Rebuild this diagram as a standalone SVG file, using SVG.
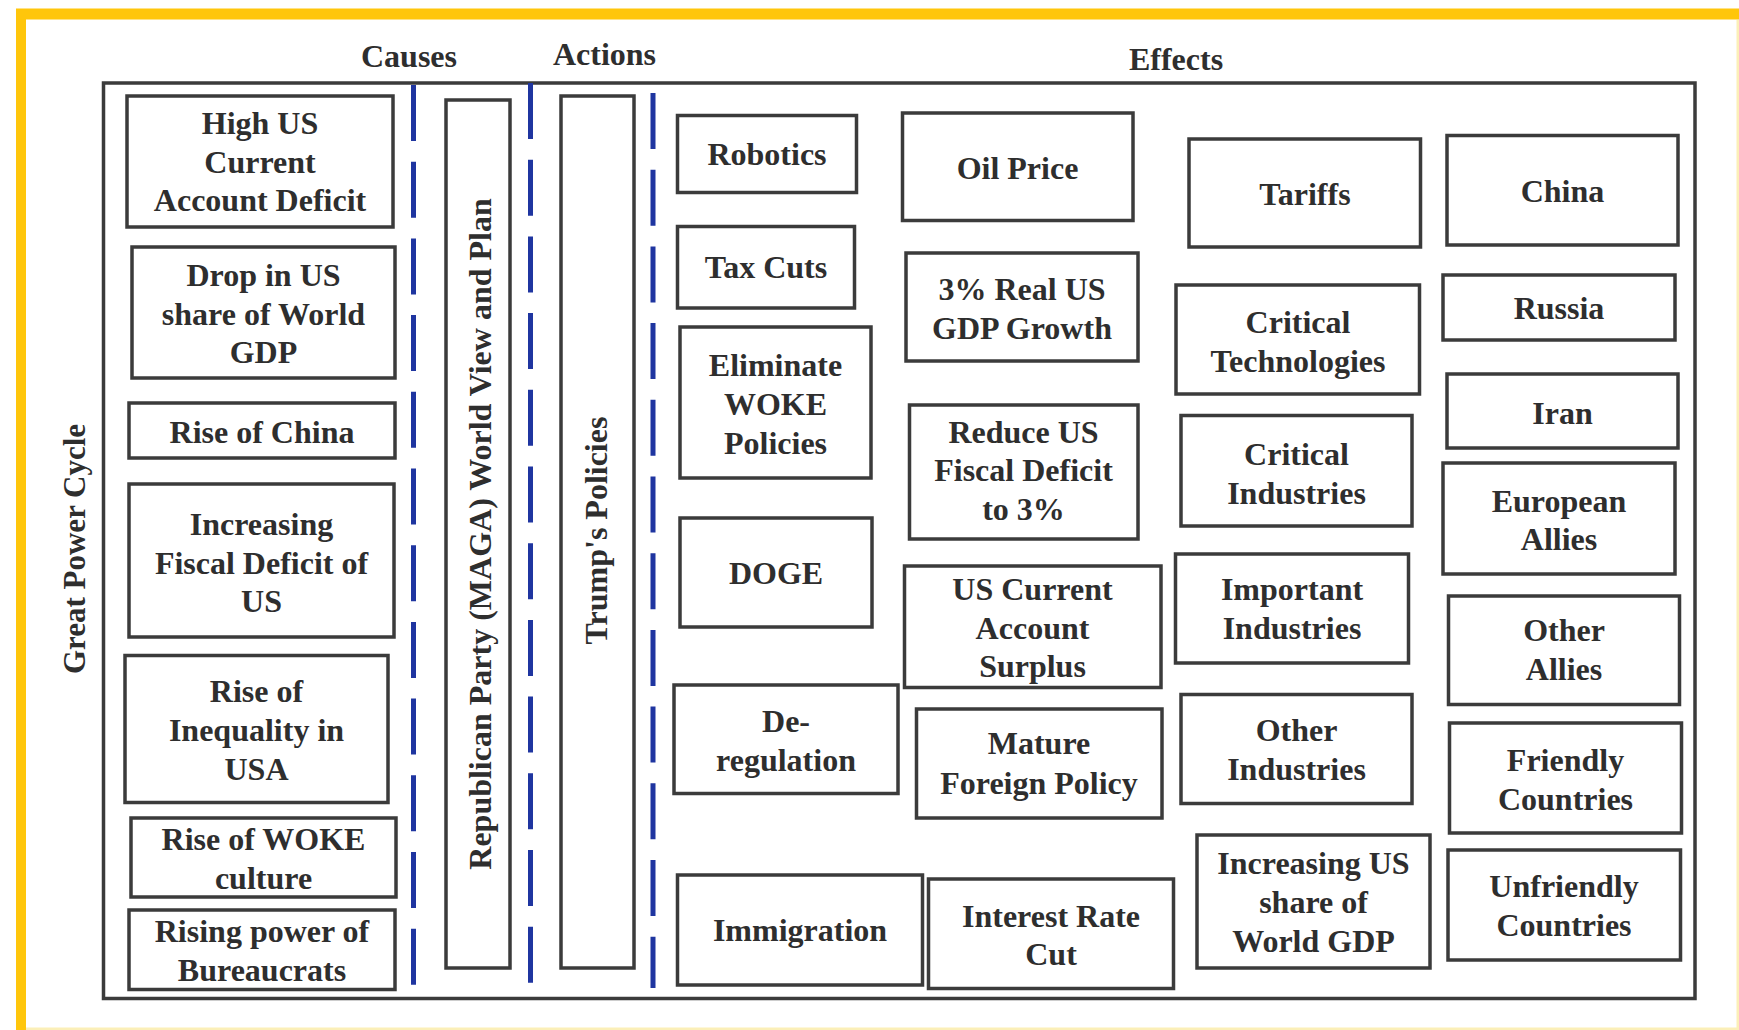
<svg xmlns="http://www.w3.org/2000/svg" width="1739" height="1030" viewBox="0 0 1739 1030">
<style>
.bx{fill:#fff;stroke:#3b3b3b;stroke-width:3.5}
.t{font-family:"Liberation Serif","Times New Roman",serif;font-weight:bold;font-size:32px;fill:#2e2e2e;text-anchor:middle}
.gp{font-size:31px}
.dash{stroke:#1f35a0;stroke-width:5;stroke-dasharray:56 20.7;fill:none}
</style>
<rect x="0" y="0" width="1739" height="1030" fill="#fff"/>
<g id="frame">
<line x1="21" y1="9" x2="21" y2="1030" stroke="#FFC60B" stroke-width="10"/>
<line x1="16" y1="14" x2="1739" y2="14" stroke="#FFC60B" stroke-width="11"/>
<line x1="1738" y1="20" x2="1738" y2="1030" stroke="#FBEFB8" stroke-width="3"/>
<line x1="26" y1="1029" x2="1739" y2="1029" stroke="#FBEFB8" stroke-width="3"/>
</g>
<g id="headings">
<text class="t" x="409" y="67">Causes</text>
<text class="t" x="604.5" y="65">Actions</text>
<text class="t" x="1176" y="70">Effects</text>
</g>
<g id="great-power-cycle">
<rect class="bx" x="103.5" y="83" width="1591.5" height="915.5" fill="none"/>
<text class="t gp" transform="translate(85,549) rotate(-90)">Great Power Cycle</text>
</g>
<g id="connectors">
<line class="dash" x1="413.5" y1="85" x2="413.5" y2="985"/>
<line class="dash" x1="530.5" y1="83" x2="530.5" y2="983"/>
<line class="dash" x1="653" y1="93" x2="653" y2="988"/>
</g>
<g id="cause-high-cad"><rect class="bx" x="127" y="96" width="266" height="131"/><text class="t" x="260" y="134">High US</text><text class="t" x="260" y="172.5">Current</text><text class="t" x="260" y="211">Account Deficit</text></g>
<g id="cause-drop-share"><rect class="bx" x="132" y="247" width="263" height="131"/><text class="t" x="263.5" y="286">Drop in US</text><text class="t" x="263.5" y="324.5">share of World</text><text class="t" x="263.5" y="363">GDP</text></g>
<g id="cause-rise-china"><rect class="bx" x="129" y="403" width="266" height="55"/><text class="t" x="262" y="443">Rise of China</text></g>
<g id="cause-fiscal"><rect class="bx" x="129" y="484" width="265" height="153"/><text class="t" x="261.5" y="535">Increasing</text><text class="t" x="261.5" y="573.5">Fiscal Deficit of</text><text class="t" x="261.5" y="612">US</text></g>
<g id="cause-inequality"><rect class="bx" x="125" y="655.5" width="263" height="147"/><text class="t" x="256.5" y="701.5">Rise of</text><text class="t" x="256.5" y="740.5">Inequality in</text><text class="t" x="256.5" y="779.5">USA</text></g>
<g id="cause-woke"><rect class="bx" x="131" y="818" width="265" height="79"/><text class="t" x="263.5" y="850">Rise of WOKE</text><text class="t" x="263.5" y="889">culture</text></g>
<g id="cause-bureaucrats"><rect class="bx" x="129" y="910" width="266" height="79.5"/><text class="t" x="262" y="942">Rising power of</text><text class="t" x="262" y="980.5">Bureaucrats</text></g>
<g id="republican"><rect class="bx" x="446" y="100" width="64" height="868"/><text class="t" transform="translate(491,534) rotate(-90)">Republican Party (MAGA) World View and Plan</text></g>
<g id="trump"><rect class="bx" x="561" y="96" width="73" height="872"/><text class="t" transform="translate(607,530.5) rotate(-90)">Trump's Policies</text></g>
<g id="robotics"><rect class="bx" x="677.5" y="115.5" width="179" height="77"/><text class="t" x="767" y="165">Robotics</text></g>
<g id="tax-cuts"><rect class="bx" x="677.5" y="226.5" width="177" height="81.5"/><text class="t" x="766" y="278">Tax Cuts</text></g>
<g id="eliminate-woke"><rect class="bx" x="680" y="327" width="191" height="151"/><text class="t" x="775.5" y="376">Eliminate</text><text class="t" x="775.5" y="415">WOKE</text><text class="t" x="775.5" y="454">Policies</text></g>
<g id="doge"><rect class="bx" x="680" y="518" width="192" height="109"/><text class="t" x="776" y="584">DOGE</text></g>
<g id="deregulation"><rect class="bx" x="674" y="685" width="224" height="108.5"/><text class="t" x="786" y="732">De-</text><text class="t" x="786" y="771">regulation</text></g>
<g id="immigration"><rect class="bx" x="677.5" y="875" width="245" height="110"/><text class="t" x="800" y="941">Immigration</text></g>
<g id="oil-price"><rect class="bx" x="902.5" y="113" width="230.5" height="107.5"/><text class="t" x="1017.5" y="178.5">Oil Price</text></g>
<g id="gdp-growth"><rect class="bx" x="906" y="253" width="232" height="108"/><text class="t" x="1022" y="300">3% Real US</text><text class="t" x="1022" y="339">GDP Growth</text></g>
<g id="reduce-fiscal"><rect class="bx" x="909.5" y="405" width="228.5" height="134"/><text class="t" x="1023.5" y="443">Reduce US</text><text class="t" x="1023.5" y="481">Fiscal Deficit</text><text class="t" x="1023.5" y="520">to 3%</text></g>
<g id="ca-surplus"><rect class="bx" x="904.5" y="566" width="256.5" height="121.5"/><text class="t" x="1032.5" y="600">US Current</text><text class="t" x="1032.5" y="638.5">Account</text><text class="t" x="1032.5" y="677">Surplus</text></g>
<g id="foreign-policy"><rect class="bx" x="916.5" y="709" width="245.5" height="109"/><text class="t" x="1039" y="754">Mature</text><text class="t" x="1039" y="794">Foreign Policy</text></g>
<g id="interest-rate"><rect class="bx" x="928.5" y="879" width="245" height="109.5"/><text class="t" x="1051" y="927">Interest Rate</text><text class="t" x="1051" y="965">Cut</text></g>
<g id="tariffs"><rect class="bx" x="1189" y="139" width="231.5" height="108"/><text class="t" x="1305" y="205">Tariffs</text></g>
<g id="critical-tech"><rect class="bx" x="1176" y="285" width="243.5" height="109"/><text class="t" x="1298" y="332.5">Critical</text><text class="t" x="1298" y="371.5">Technologies</text></g>
<g id="critical-ind"><rect class="bx" x="1181" y="415.5" width="231" height="110.5"/><text class="t" x="1296.5" y="464.5">Critical</text><text class="t" x="1296.5" y="503.5">Industries</text></g>
<g id="important-ind"><rect class="bx" x="1175.5" y="554" width="233" height="109"/><text class="t" x="1292" y="600">Important</text><text class="t" x="1292" y="639">Industries</text></g>
<g id="other-ind"><rect class="bx" x="1181" y="694.5" width="231" height="109"/><text class="t" x="1296.5" y="741">Other</text><text class="t" x="1296.5" y="779.5">Industries</text></g>
<g id="increasing-share"><rect class="bx" x="1197" y="835" width="233" height="133"/><text class="t" x="1313.5" y="874">Increasing US</text><text class="t" x="1313.5" y="913">share of</text><text class="t" x="1313.5" y="952">World GDP</text></g>
<g id="china"><rect class="bx" x="1447" y="135.5" width="231" height="109.5"/><text class="t" x="1562.5" y="202">China</text></g>
<g id="russia"><rect class="bx" x="1443" y="275" width="232" height="65"/><text class="t" x="1559" y="319">Russia</text></g>
<g id="iran"><rect class="bx" x="1447" y="374" width="231" height="74"/><text class="t" x="1562.5" y="423.5">Iran</text></g>
<g id="european-allies"><rect class="bx" x="1443" y="463" width="232" height="111"/><text class="t" x="1559" y="512">European</text><text class="t" x="1559" y="550">Allies</text></g>
<g id="other-allies"><rect class="bx" x="1448.5" y="596" width="231" height="108.5"/><text class="t" x="1564" y="641">Other</text><text class="t" x="1564" y="680">Allies</text></g>
<g id="friendly"><rect class="bx" x="1449.5" y="723" width="232" height="110"/><text class="t" x="1565.5" y="771">Friendly</text><text class="t" x="1565.5" y="810">Countries</text></g>
<g id="unfriendly"><rect class="bx" x="1448" y="850" width="232.5" height="110"/><text class="t" x="1564" y="897">Unfriendly</text><text class="t" x="1564" y="936">Countries</text></g>
</svg>
